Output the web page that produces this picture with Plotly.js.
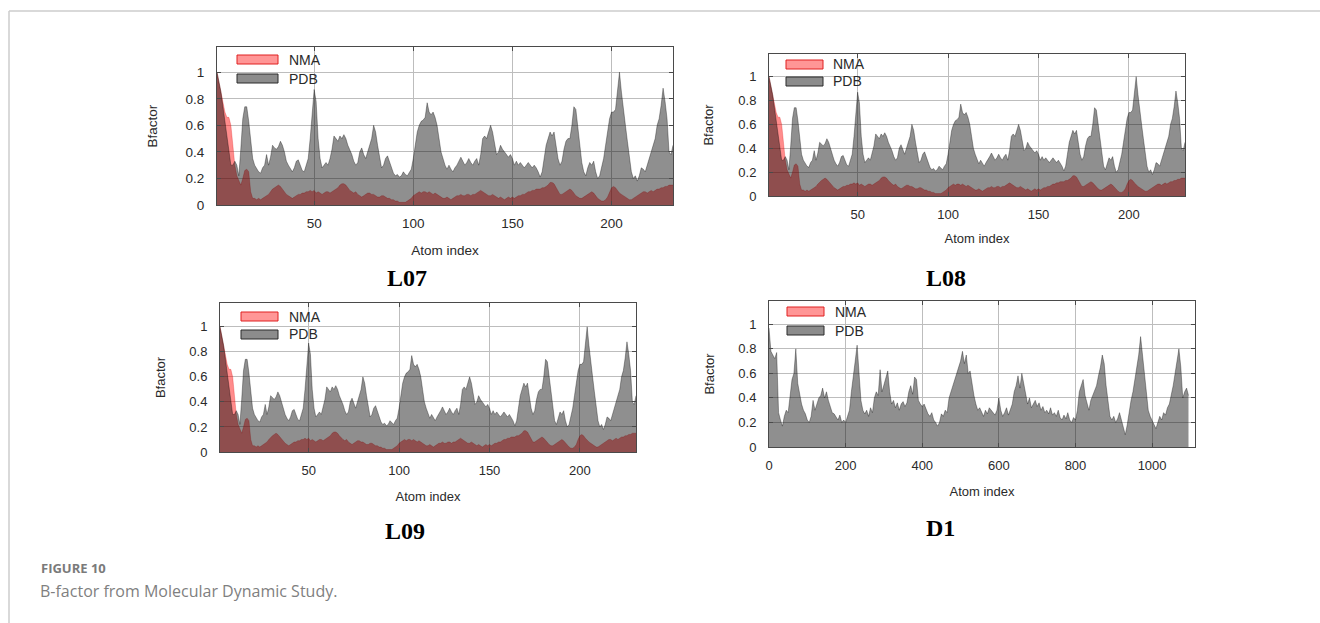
<!DOCTYPE html>
<html><head><meta charset="utf-8">
<script src="https://cdn.plot.ly/plotly-3.0.1.min.js"></script>
<style>html,body{margin:0;padding:0;background:#fff;} #chart{width:1320px;height:623px;}</style>
</head><body><div id="chart"></div>
<script>
// ---------- DATA ----------
const panelNames = ['L07', 'L08', 'L09', 'D1'];
const seriesNames = ['NMA', 'PDB'];
const xTicksL = [50, 100, 150, 200];
const xTicksD1 = [0, 200, 400, 600, 800, 1000];
const yTicks = [0, 0.2, 0.4, 0.6, 0.8, 1];
const yTickText = ['0', '0.2', '0.4', '0.6', '0.8', '1'];

// L07 / L08 / L09 share the same profile (atoms 1..231)
const lPdb = [
 1.0,0.93,0.85,0.74,0.62,0.5,0.4,0.3,0.3,0.33,
 0.3,0.22,0.42,0.65,0.74,0.74,0.63,0.48,0.35,0.3,
 0.27,0.25,0.24,0.28,0.3,0.38,0.3,0.36,0.45,0.43,
 0.42,0.44,0.48,0.45,0.4,0.33,0.3,0.27,0.25,0.28,
 0.33,0.34,0.3,0.26,0.25,0.3,0.35,0.5,0.7,0.87,
 0.78,0.5,0.35,0.28,0.3,0.32,0.3,0.35,0.42,0.52,
 0.5,0.48,0.52,0.5,0.53,0.5,0.45,0.42,0.38,0.33,
 0.3,0.32,0.4,0.43,0.38,0.35,0.4,0.45,0.5,0.6,
 0.55,0.45,0.35,0.28,0.3,0.35,0.37,0.33,0.28,0.24,
 0.22,0.23,0.21,0.22,0.25,0.23,0.22,0.25,0.27,0.35,
 0.45,0.55,0.6,0.63,0.64,0.66,0.77,0.7,0.68,0.7,
 0.66,0.6,0.5,0.4,0.35,0.3,0.27,0.3,0.27,0.25,
 0.28,0.3,0.33,0.36,0.33,0.3,0.32,0.35,0.32,0.3,
 0.33,0.35,0.3,0.38,0.5,0.52,0.5,0.55,0.6,0.55,
 0.45,0.38,0.4,0.45,0.42,0.4,0.38,0.36,0.38,0.35,
 0.3,0.33,0.3,0.32,0.3,0.28,0.3,0.32,0.3,0.28,
 0.3,0.28,0.25,0.21,0.25,0.35,0.45,0.5,0.55,0.52,
 0.55,0.45,0.35,0.3,0.33,0.42,0.48,0.5,0.5,0.6,
 0.74,0.72,0.6,0.45,0.32,0.25,0.22,0.28,0.32,0.3,
 0.33,0.25,0.2,0.22,0.28,0.35,0.45,0.55,0.65,0.7,
 0.7,0.72,0.85,1.0,0.85,0.7,0.6,0.48,0.38,0.25,
 0.2,0.22,0.18,0.22,0.28,0.27,0.25,0.3,0.35,0.4,
 0.45,0.5,0.6,0.65,0.75,0.88,0.78,0.65,0.4,0.38,0.45
];
const lNma = [
 1.0,0.92,0.85,0.78,0.7,0.66,0.66,0.6,0.45,0.3,
 0.22,0.18,0.15,0.2,0.26,0.27,0.25,0.1,0.05,0.05,
 0.04,0.05,0.04,0.05,0.06,0.07,0.08,0.1,0.12,0.13,
 0.14,0.15,0.14,0.12,0.1,0.08,0.07,0.06,0.05,0.06,
 0.07,0.08,0.08,0.09,0.09,0.1,0.1,0.11,0.1,0.11,
 0.09,0.1,0.09,0.08,0.09,0.1,0.1,0.09,0.1,0.11,
 0.12,0.13,0.15,0.16,0.16,0.15,0.13,0.11,0.1,0.09,
 0.1,0.08,0.07,0.06,0.07,0.08,0.09,0.09,0.08,0.08,
 0.07,0.06,0.06,0.07,0.07,0.06,0.05,0.05,0.04,0.04,
 0.03,0.03,0.02,0.02,0.02,0.02,0.03,0.04,0.05,0.07,
 0.08,0.09,0.1,0.09,0.1,0.1,0.09,0.1,0.09,0.08,
 0.09,0.08,0.07,0.06,0.05,0.05,0.06,0.05,0.04,0.05,
 0.06,0.07,0.07,0.08,0.07,0.07,0.08,0.08,0.07,0.08,
 0.08,0.09,0.1,0.11,0.1,0.09,0.08,0.07,0.07,0.08,
 0.07,0.06,0.05,0.06,0.05,0.04,0.05,0.06,0.05,0.06,
 0.05,0.06,0.07,0.07,0.08,0.08,0.09,0.1,0.1,0.11,
 0.11,0.12,0.12,0.12,0.13,0.13,0.14,0.15,0.17,0.17,
 0.16,0.13,0.1,0.08,0.08,0.09,0.1,0.11,0.12,0.11,
 0.09,0.07,0.06,0.05,0.05,0.06,0.07,0.08,0.09,0.1,
 0.09,0.07,0.05,0.04,0.03,0.03,0.04,0.06,0.1,0.13,
 0.14,0.13,0.11,0.09,0.08,0.07,0.06,0.05,0.04,0.04,
 0.05,0.06,0.07,0.08,0.09,0.1,0.1,0.09,0.1,0.11,
 0.1,0.11,0.12,0.12,0.13,0.13,0.14,0.14,0.15,0.15,0.15
];
const lAtoms = lPdb.map((_, i) => i + 1);

// D1 profile, sampled every 5 atoms (0..1095)
const d1Pdb = [
 0.97,0.78,0.75,0.72,0.77,0.28,0.22,0.17,0.25,0.3,
 0.28,0.4,0.55,0.6,0.8,0.52,0.42,0.35,0.3,0.27,
 0.22,0.2,0.25,0.38,0.3,0.36,0.4,0.42,0.48,0.4,
 0.45,0.38,0.33,0.28,0.27,0.25,0.22,0.26,0.2,0.22,
 0.2,0.25,0.3,0.45,0.6,0.7,0.83,0.55,0.38,0.3,
 0.27,0.3,0.25,0.32,0.28,0.4,0.45,0.42,0.63,0.45,
 0.5,0.55,0.62,0.45,0.35,0.38,0.32,0.36,0.3,0.35,
 0.37,0.33,0.36,0.45,0.5,0.43,0.57,0.55,0.38,0.35,
 0.33,0.35,0.3,0.27,0.25,0.28,0.22,0.2,0.17,0.2,
 0.27,0.25,0.3,0.28,0.4,0.45,0.5,0.55,0.6,0.65,
 0.7,0.78,0.68,0.75,0.6,0.62,0.5,0.42,0.35,0.3,
 0.32,0.28,0.25,0.3,0.27,0.32,0.3,0.28,0.26,0.3,
 0.4,0.3,0.25,0.28,0.32,0.26,0.3,0.35,0.45,0.5,
 0.58,0.48,0.6,0.52,0.45,0.35,0.4,0.32,0.35,0.38,
 0.33,0.36,0.3,0.33,0.28,0.3,0.27,0.32,0.26,0.28,
 0.25,0.3,0.24,0.22,0.26,0.23,0.28,0.22,0.2,0.24,
 0.22,0.3,0.45,0.5,0.55,0.42,0.35,0.3,0.38,0.42,
 0.45,0.5,0.58,0.65,0.75,0.68,0.5,0.35,0.25,0.22,
 0.25,0.2,0.23,0.28,0.22,0.15,0.1,0.18,0.3,0.38,
 0.45,0.55,0.62,0.75,0.9,0.72,0.6,0.45,0.3,0.25,
 0.22,0.18,0.15,0.2,0.25,0.22,0.28,0.26,0.32,0.35,
 0.42,0.5,0.6,0.72,0.8,0.65,0.4,0.45,0.48,0.42
];
const d1Atoms = d1Pdb.map((_, i) => i * 5);

// ---------- LAYOUT GEOMETRY (pixels) ----------
const W = 1320, H = 623;
const fx = px => px / W;
const fy = py => 1 - py / H;

const panels = [
  {box: [217, 673, 47, 205], fs: 13.5, atoms: lAtoms, pdb: lPdb, nma: lNma, xr: [1, 231], xt: xTicksL,
   leg: {x0: 237, x1: 278, y: [55, 74], h: 9, tx: 287}, title: [407, 278], xstand: 15, ystand: 24},
  {box: [769, 1185, 54, 196], fs: 13, atoms: lAtoms, pdb: lPdb, nma: lNma, xr: [1, 231], xt: xTicksL,
   leg: {x0: 786, x1: 823, y: [60, 77], h: 9, tx: 831}, title: [946, 278], xstand: 13, ystand: 21},
  {box: [220, 636, 303, 452], fs: 13, atoms: lAtoms, pdb: lPdb, nma: lNma, xr: [1, 231], xt: xTicksL,
   leg: {x0: 241, x1: 278, y: [312, 330], h: 9, tx: 287}, title: [405, 531], xstand: 15, ystand: 20},
  {box: [769, 1195, 301, 447], fs: 13, atoms: d1Atoms, pdb: d1Pdb, nma: [], xr: [0, 1112], xt: xTicksD1,
   leg: {x0: 787, x1: 824, y: [307, 326], h: 9, tx: 833}, title: [940, 528], xstand: 15, ystand: 20}
];

const nmaFill = 'rgba(255,0,0,0.45)';
const pdbFill = 'rgba(0,0,0,0.44)';
const axisCol = '#4a4a4a';
const txtCol = '#2a2a2a';
const sansFont = 'Liberation Sans, Arial, sans-serif';

const traces = [];
const layout = {
  width: W, height: H,
  margin: {l: 0, r: 0, t: 0, b: 0},
  paper_bgcolor: '#ffffff', plot_bgcolor: '#ffffff',
  showlegend: false,
  shapes: [], annotations: []
};

panels.forEach((p, i) => {
  const n = i === 0 ? '' : String(i + 1);
  const xa = 'x' + n, ya = 'y' + n;
  if (p.nma.length) {
    traces.push({type: 'scatter', mode: 'lines', name: seriesNames[0], x: p.atoms, y: p.nma,
      xaxis: xa, yaxis: ya, fill: 'tozeroy', fillcolor: nmaFill,
      line: {color: 'rgba(220,0,0,0.5)', width: 0.5}, hoverinfo: 'skip'});
  }
  traces.push({type: 'scatter', mode: 'lines', name: seriesNames[1], x: p.atoms, y: p.pdb,
    xaxis: xa, yaxis: ya, fill: 'tozeroy', fillcolor: pdbFill,
    line: {color: 'rgba(0,0,0,0.55)', width: 0.6}, hoverinfo: 'skip'});

  const [l, r, t, b] = p.box;
  const tickFont = {family: sansFont, size: p.fs, color: txtCol};
  layout['xaxis' + n] = {
    domain: [fx(l), fx(r)], anchor: ya, range: p.xr,
    tickmode: 'array', tickvals: p.xt, ticktext: p.xt.map(String),
    ticks: 'inside', ticklen: 4, tickcolor: axisCol, ticklabelstandoff: 6,
    showline: true, linecolor: axisCol, linewidth: 1, mirror: 'ticks',
    showgrid: true, gridcolor: '#bdbdbd', gridwidth: 1, zeroline: false,
    tickfont: tickFont, automargin: false,
    title: {text: 'Atom index', font: tickFont, standoff: p.xstand}
  };
  layout['yaxis' + n] = {
    domain: [fy(b), fy(t)], anchor: xa, range: [0, 1.19],
    tickmode: 'array', tickvals: yTicks, ticktext: yTickText,
    ticks: 'inside', ticklen: 4, tickcolor: axisCol, ticklabelstandoff: 9,
    showline: true, linecolor: axisCol, linewidth: 1, mirror: 'ticks',
    showgrid: true, gridcolor: '#bdbdbd', gridwidth: 1, zeroline: false,
    tickfont: tickFont, automargin: false,
    title: {text: 'Bfactor', font: tickFont, standoff: p.ystand}
  };

  // legend key (drawn inside the plot, top left)
  const lg = p.leg;
  const swatches = [
    {fill: 'rgba(255,80,80,0.6)', line: '#e02020'},
    {fill: '#8c8c8c', line: '#2a2a2a'}
  ];
  seriesNames.forEach((s, k) => {
    const yTop = lg.y[k];
    layout.shapes.push({type: 'rect', xref: 'paper', yref: 'paper',
      x0: fx(lg.x0), x1: fx(lg.x1), y0: fy(yTop + lg.h), y1: fy(yTop),
      fillcolor: swatches[k].fill, line: {color: swatches[k].line, width: 1}, layer: 'above'});
    layout.annotations.push({text: s, xref: 'paper', yref: 'paper',
      x: fx(lg.tx), y: fy(yTop + lg.h / 2), xanchor: 'left', yanchor: 'middle',
      showarrow: false, font: {family: sansFont, size: 14, color: txtCol}});
  });

  // panel name below
  layout.annotations.push({text: panelNames[i], xref: 'paper', yref: 'paper',
    x: fx(p.title[0]), y: fy(p.title[1]), xanchor: 'center', yanchor: 'middle', showarrow: false,
    font: {family: 'Liberation Serif, Times New Roman, serif', size: 24, weight: 700, color: '#000'}});
});

// figure frame and caption
layout.shapes.push({type: 'line', xref: 'paper', yref: 'paper', x0: fx(9), x1: fx(9), y0: fy(11), y1: 0,
  line: {color: '#cdcdcd', width: 1.5}});
layout.shapes.push({type: 'line', xref: 'paper', yref: 'paper', x0: fx(9), x1: 1, y0: fy(11), y1: fy(11),
  line: {color: '#cdcdcd', width: 1.5}});
layout.annotations.push({text: 'FIGURE 10', xref: 'paper', yref: 'paper', x: fx(39), y: fy(568),
  xanchor: 'left', yanchor: 'middle', showarrow: false,
  font: {family: 'Open Sans, sans-serif', size: 13, weight: 700, color: '#7a7a7a'}});
layout.annotations.push({text: 'B-factor from Molecular Dynamic Study.', xref: 'paper', yref: 'paper',
  x: fx(38), y: fy(591), xanchor: 'left', yanchor: 'middle', showarrow: false,
  font: {family: 'Open Sans, sans-serif', size: 16, color: '#7f7f7f'}});

Plotly.newPlot('chart', traces, layout, {displayModeBar: false, staticPlot: true});
</script>
</body></html>
